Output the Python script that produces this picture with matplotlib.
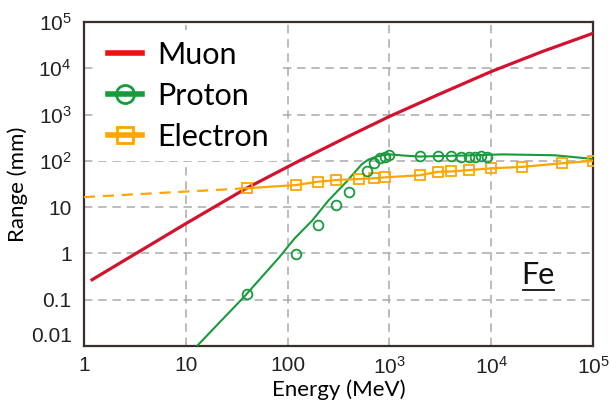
import matplotlib
matplotlib.use("Agg")
import matplotlib.pyplot as plt
from matplotlib.lines import Line2D

# ----------------------------
# Dados (Fe)
# ----------------------------
muon_E = [1.2, 10, 38, 130, 380, 1000, 3162, 10000, 31623, 100000]
muon_R = [0.27, 4.4, 24.5, 100, 324, 910, 2820, 8500, 22900, 57000]

proton_curve_E = [12, 38, 83, 117, 174, 251, 372, 537, 620, 740, 870, 1000, 1400,
                  2000, 5000, 13000, 42000, 100000]
proton_curve_R = [0.0085, 0.12, 0.83, 2.1, 5.1, 13.8, 34, 85, 106, 123, 133, 138,
                  130, 124, 130, 138, 132, 110]

proton_E = [40, 120, 200, 300, 400, 600, 700, 800, 900, 1000, 2000, 3000, 4000,
            5000, 6000, 7000, 8000, 9000]
proton_R = [0.13, 0.95, 4.2, 11, 21, 59, 92, 114, 124, 134, 128, 128, 128,
            122, 122, 122, 128, 122]

electron_E = [40, 120, 200, 300, 500, 700, 900, 2000, 3000, 4000, 6000, 10000,
              20000, 50000, 100000]
electron_R = [25.6, 30, 35.5, 38.5, 40.5, 42, 44, 49, 58, 59, 63, 69, 74, 89, 100]

electron_ext_E = [1, 40]
electron_ext_R = [16.5, 25.6]

x_ticks = [1, 10, 100, 1e3, 1e4, 1e5]
x_labels = ["1", "10", "100", r"$\mathregular{10^3}$", r"$\mathregular{10^4}$",
            r"$\mathregular{10^5}$"]
y_ticks = [0.01, 0.1, 1, 10, 100, 1e3, 1e4, 1e5]
y_labels = ["0.01", "0.1", "1", "10", r"$\mathregular{10^2}$", r"$\mathregular{10^3}$",
            r"$\mathregular{10^4}$", r"$\mathregular{10^5}$"]

# cores
cor_muon = "#d3122f"
cor_muon_leg = "#ee1111"
cor_proton = "#179b3d"
cor_electron = "#ffa500"
cor_grid = "#aaaaaa"
cor_eixo = "#3a2e2c"

plt.rcParams["mathtext.fontset"] = "custom"
plt.rcParams["mathtext.rm"] = "Liberation Sans"

fig = plt.figure(figsize=(6.1, 4.04), dpi=100)
ax = fig.add_axes([84 / 610, 58 / 404, 509 / 610, 324 / 404])

ax.set_xscale("log")
ax.set_yscale("log")
ax.set_xlim(1, 1e5)
ax.set_ylim(0.01, 1e5)

# grade tracejada
for x in x_ticks[1:-1]:
    ax.axvline(x, color=cor_grid, lw=1.1, ls=(0, (5.5, 3.8)), zorder=0)
for y in y_ticks[1:-1]:
    ax.axhline(y, color=cor_grid, lw=1.1, ls=(0, (5.5, 3.8)), zorder=0)

# curvas
ax.plot(muon_E, muon_R, color=cor_muon, lw=2.3, zorder=3)
ax.plot(proton_curve_E, proton_curve_R, color=cor_proton, lw=1.5, zorder=3)
ax.plot(proton_E, proton_R, ls="none", marker="o", ms=7, mfc="none",
        mec=cor_proton, mew=1.3, zorder=4)
ax.plot(electron_ext_E, electron_ext_R, color=cor_electron, lw=1.6,
        ls=(0, (5, 3.5)), zorder=3)
ax.plot(electron_E, electron_R, color=cor_electron, lw=1.6, marker="s", ms=7,
        mfc="none", mec=cor_electron, mew=1.3, zorder=3)

# eixos
ax.set_xticks(x_ticks)
ax.set_xticklabels(x_labels)
ax.set_yticks(y_ticks)
ax.set_yticklabels(y_labels)
ax.minorticks_off()
ax.tick_params(length=0, labelsize=15, labelcolor="#222222")
ax.tick_params(axis="y", pad=9)
ax.tick_params(axis="x", pad=7)
for lbl in ax.get_xticklabels() + ax.get_yticklabels():
    lbl.set_fontfamily("Liberation Sans")
ax.get_yticklabels()[0].set_va("bottom")

for s in ax.spines.values():
    s.set_color(cor_eixo)
    s.set_linewidth(1.6)

ax.set_xlabel("Energy (MeV)", fontsize=16, family="Lato", labelpad=1)
ax.set_ylabel("Range (mm)", fontsize=16, family="Lato", labelpad=2)

# legenda (fica por cima da grade, mas por baixo das curvas)
handles = [
    Line2D([], [], color=cor_muon_leg, lw=4),
    Line2D([], [], color=cor_proton, lw=4, marker="o", ms=13, mfc="none", mew=2),
    Line2D([], [], color=cor_electron, lw=4, marker="s", ms=11, mfc="none", mew=2),
]
leg = ax.legend(handles, ["Muon", "Proton", "Electron"], loc="upper left",
                bbox_to_anchor=(0.026, 0.974), borderaxespad=0, frameon=True,
                fancybox=False, framealpha=1, edgecolor="none", facecolor="white",
                prop={"family": "Lato", "size": 22}, handlelength=1.1,
                handletextpad=0.5, labelspacing=0.42, borderpad=0.35)
leg.set_zorder(2)

# rótulo Fe sublinhado
ax.text(0.892, 0.218, "Fe", transform=ax.transAxes, ha="center", va="center",
        fontsize=22, family="Lato", color="#111111")
ax.add_line(Line2D([0.862, 0.923], [0.173, 0.173], transform=ax.transAxes,
                   color="#111111", lw=1.3))

fig.savefig("out.png", dpi=100)
